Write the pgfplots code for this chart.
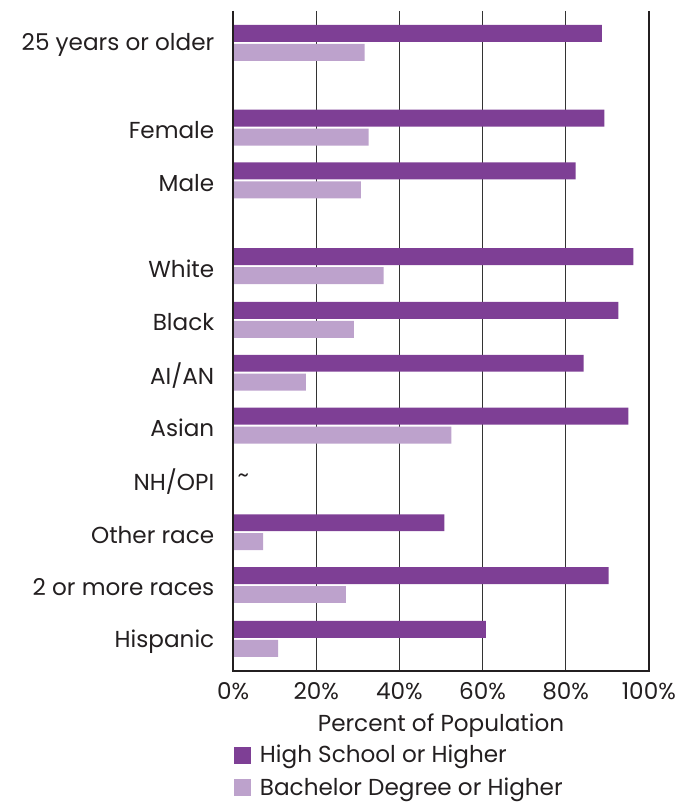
\documentclass[border=0pt]{standalone}
\usepackage{fontspec}
\setmainfont{Poppins}
\usepackage{pgfplots}
\pgfplotsset{compat=1.18}
\definecolor{hs}{HTML}{7E3F95}
\definecolor{ba}{HTML}{BDA2CC}
\definecolor{txt}{HTML}{231F20}
\definecolor{gridc}{HTML}{333333}

\begin{document}
\begin{tikzpicture}
\begin{axis}[
    width=208.5pt, height=331pt,
    scale only axis,
    xbar, bar width=17,
    xmin=0, xmax=100,
    ymin=11, ymax=673,
    y dir=reverse,
    clip=false,
    axis line style={draw=none},
    xtick={0,20,40,60,80,100},
    xticklabels={0\%,20\%,40\%,60\%,80\%,100\%},
    xmajorgrids,
    grid style={gridc, line width=0.7pt},
    major tick length=0pt,
    ytick={43,128,181,267,321,374,427,480.5,534,587,641},
    yticklabels={25 years or older,Female,Male,White,Black,AI/AN,Asian,NH/OPI,Other race,2 or more races,Hispanic},
    tick label style={font=\fontsize{11.6}{13}\selectfont, text=txt},
    yticklabel style={xshift=-6pt, yshift=-1.2pt},
    xticklabel style={yshift=-2.5pt},
    xlabel={Percent of Population},
    xlabel style={font=\fontsize{11.6}{13}\selectfont, text=txt, yshift=0pt},
    legend style={at={(axis cs:0,743)}, anchor=north west, draw=none, fill=none,
        font=\fontsize{11.6}{13}\selectfont, text=txt, inner sep=0pt, row sep=2pt},
    legend cell align=left,
    legend image code/.code={\fill[#1] (0pt,-4.25pt) rectangle (8.5pt,4.25pt); \path (11.2pt,0pt);},
]
% High School or Higher
\addplot[fill=hs, draw=none, bar shift=0pt] coordinates {
    (88.7,33.5) (89.3,118.5) (82.4,171.5) (96.3,257.5) (92.7,311.5)
    (84.3,364.5) (95.1,417.5) (50.8,524.5) (90.3,577.5) (60.8,631.5)};
% Bachelor Degree or Higher
\addplot[fill=ba, draw=none, bar shift=0pt] coordinates {
    (31.6,52.5) (32.6,137.5) (30.7,190.5) (36.2,276.5) (29.0,330.5)
    (17.5,383.5) (52.5,436.5) (7.2,543.5) (27.1,596.5) (10.8,650.5)};
\legend{High School or Higher, Bachelor Degree or Higher}
\node[text=txt, font=\fontsize{11}{12}\selectfont] at (axis cs:2.4,480) {\textasciitilde};
\draw[txt, line width=1pt] (axis cs:0,11) -- (axis cs:0,673) -- (axis cs:100,673) -- (axis cs:100,11);
\path (axis cs:-56.12,0) rectangle (axis cs:110.79,802);
\end{axis}
\end{tikzpicture}
\end{document}
